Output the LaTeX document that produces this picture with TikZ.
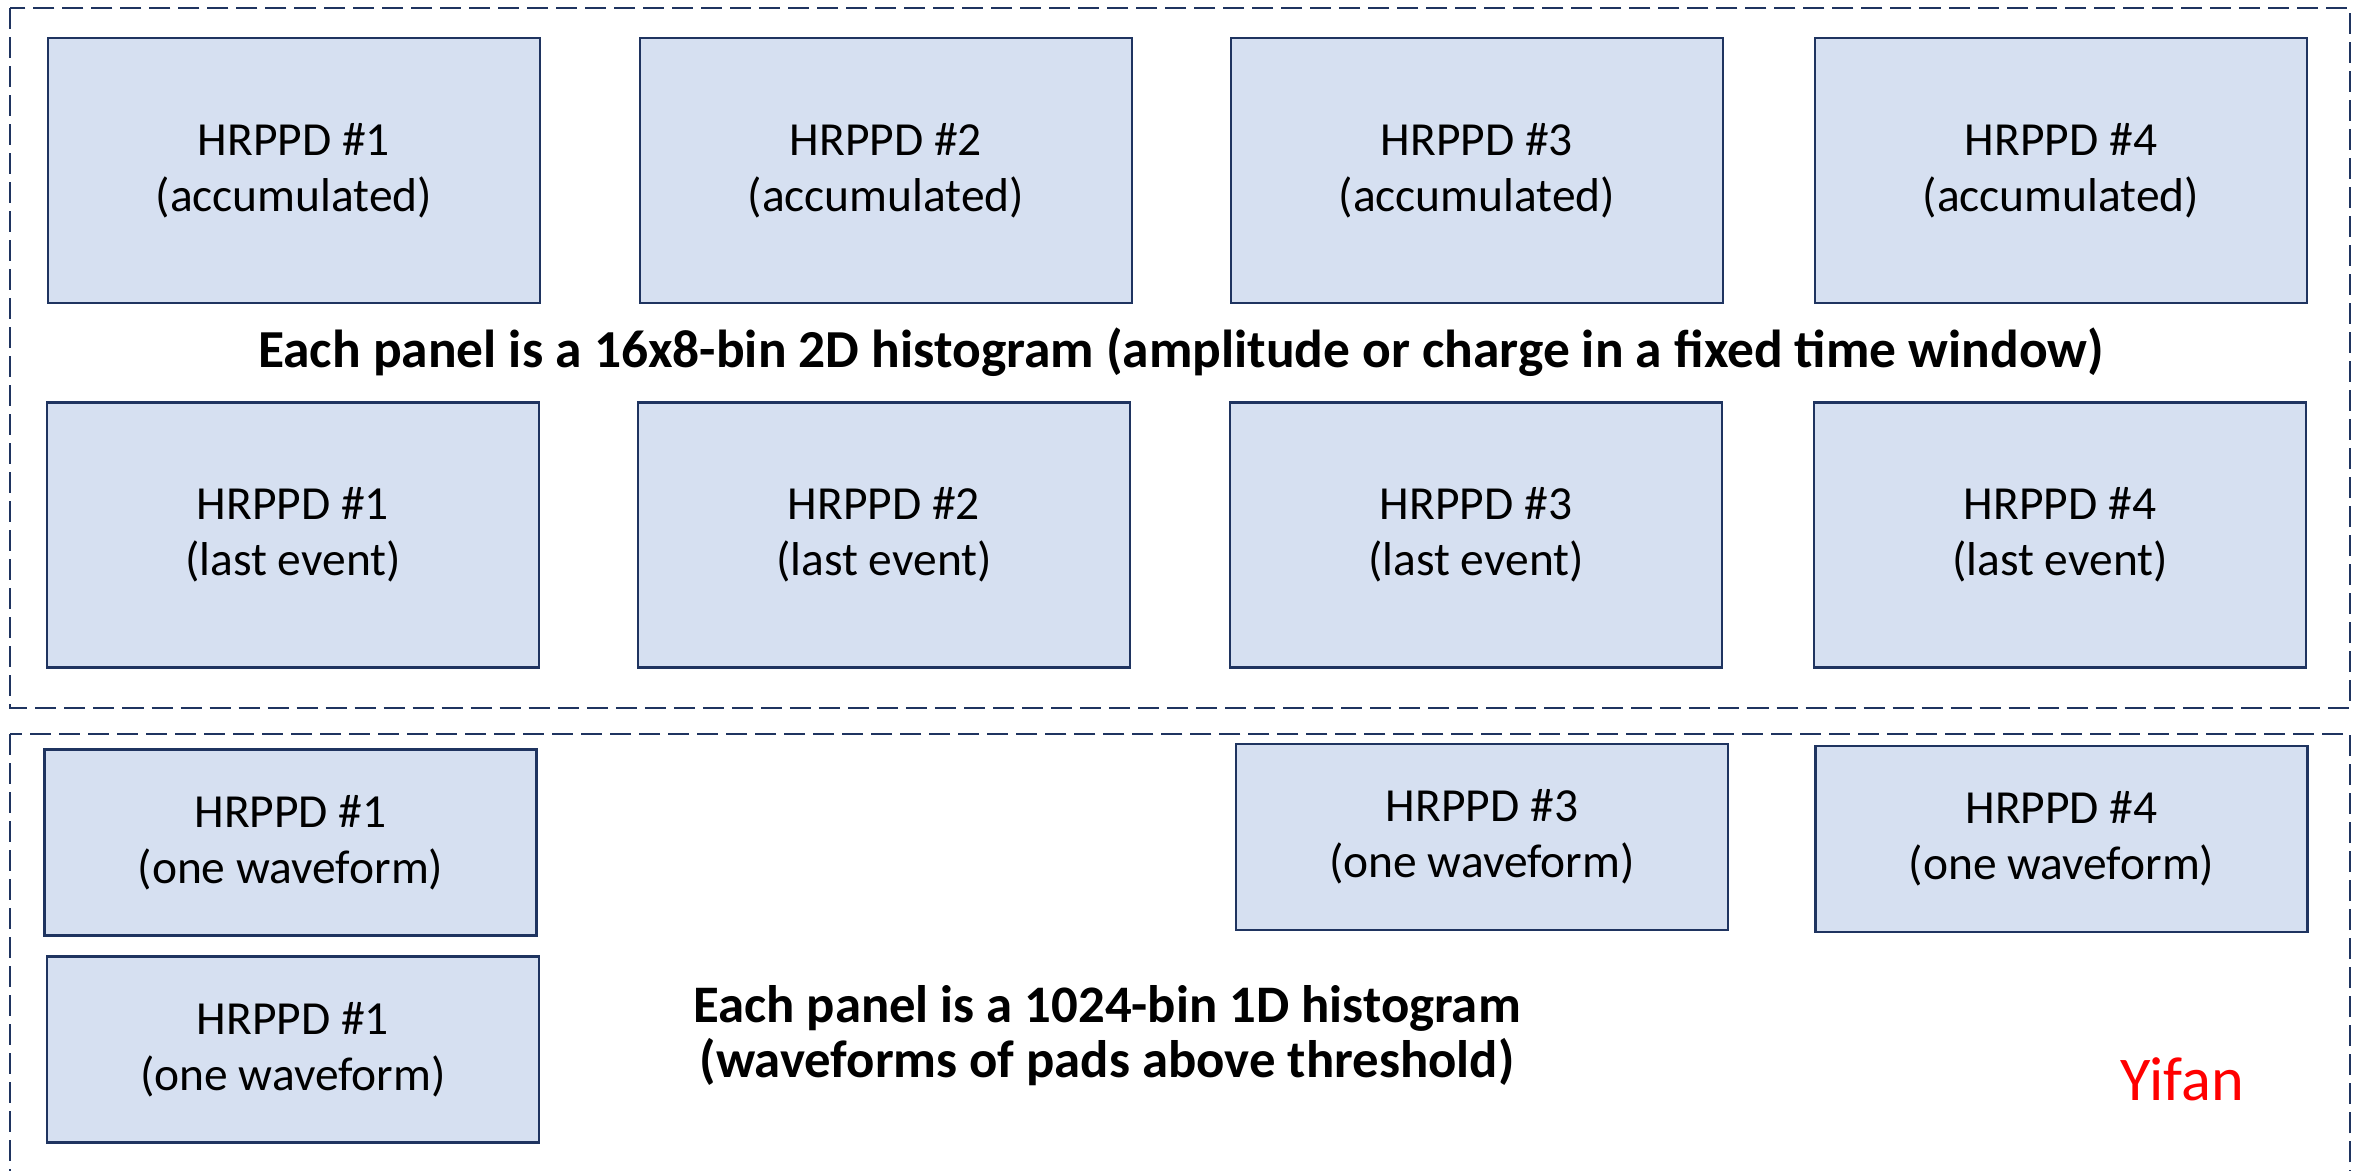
\documentclass[tikz,border=0pt]{standalone}
\usepackage{fontspec}
\setmainfont{Carlito}
\definecolor{panelfill}{HTML}{D6E0F1}
\definecolor{paneldraw}{HTML}{1F3460}
\tikzset{
  histbox/.style={draw=paneldraw, line width=0.7pt, fill=panelfill, align=center,
    minimum width=4.92cm, minimum height=2.65cm, inner sep=0pt,
    font=\fontsize{13.5}{15.9}\selectfont,
    execute at begin node={\rule{0pt}{11.2pt}}},
  wavebox/.style={histbox, minimum height=1.86cm},
  groupframe/.style={draw=paneldraw, line width=0.8pt, dash pattern=on 0.21cm off 0.08cm},
  caption/.style={align=center, font=\fontsize{15.2}{15.8}\selectfont\bfseries}
}
\begin{document}
\begin{tikzpicture}[x=0.01cm, y=-0.01cm]
\useasboundingbox (0,0) rectangle (2366,1171);
%\draw [lightgray](0,0) grid[step=100] (2366,1171);
\draw [groupframe](10,8) rectangle (2350,708);
\draw [groupframe](10,734) rectangle (2350,1200);

% accumulated
\node [histbox] (acc1) at ( 294,170.5){HRPPD \#1\\(accumulated)};
\node [histbox] (acc2) at ( 886,170.5){HRPPD \#2\\(accumulated)};
\node [histbox] (acc3) at (1477,170.5){HRPPD \#3\\(accumulated)};
\node [histbox] (acc4) at (2061,170.5){HRPPD \#4\\(accumulated)};

\node [caption] (cap2d) at (1181,352){Each panel is a 16x8-bin 2D histogram (amplitude or charge in a fixed time window)};

% last event
\node [histbox] (last1) at ( 293,535){HRPPD \#1\\(last event)};
\node [histbox] (last2) at ( 884,535){HRPPD \#2\\(last event)};
\node [histbox] (last3) at (1476,535){HRPPD \#3\\(last event)};
\node [histbox] (last4) at (2060,535){HRPPD \#4\\(last event)};

% waveforms
\node [wavebox] (wave1a) at ( 290.5,842.5){HRPPD \#1\\(one waveform)};
\node [wavebox] (wave1b) at ( 293,1049.5){HRPPD \#1\\(one waveform)};
\node [wavebox] (wave3) at (1482,837){HRPPD \#3\\(one waveform)};
\node [wavebox] (wave4) at (2061.5,839){HRPPD \#4\\(one waveform)};

\node [caption, font=\fontsize{15}{15.6}\selectfont\bfseries] (cap1d) at (1107,1036){Each panel is a 1024-bin 1D histogram\\(waveforms of pads above threshold)};
\node [text=red, font=\fontsize{17.7}{20}\selectfont] (name) at (2182,1079){Yifan};
\end{tikzpicture}
\end{document}
